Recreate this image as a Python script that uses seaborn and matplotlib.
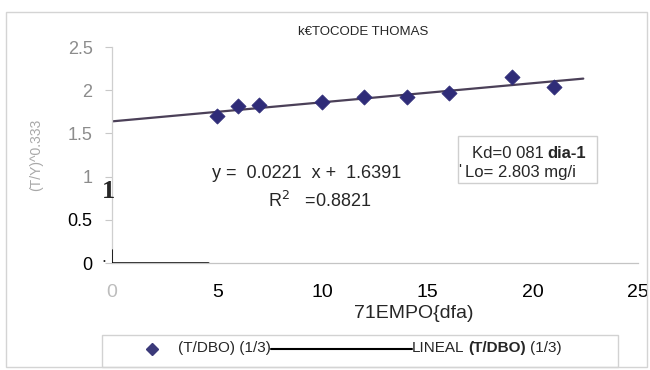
import matplotlib
matplotlib.use("Agg")
import matplotlib.pyplot as plt
import seaborn as sns
import pandas as pd
from matplotlib.patches import Rectangle
from matplotlib.lines import Line2D

# ---------------- data ----------------
dias = [5, 6, 7, 10, 12, 14, 16, 19, 21]
tdbo = [1.70, 1.82, 1.83, 1.86, 1.92, 1.92, 1.97, 2.15, 2.04]
fit_slope = 0.0221
fit_intercept = 1.6391
fit_x = [0, 22.4]

x_ticks = [0, 5, 10, 15, 20, 25]
x_tick_labels = ["0", "5", "10", "15", "20", "25"]
y_ticks = [0, 0.5, 1, 1.5, 2, 2.5]
y_tick_labels = ["0", "0.5", "1", "1.5", "2", "2.5"]

title_text = "k€TOCODE THOMAS"
xlabel_text = "71EMPO{dfa)"
ylabel_text = "(T/Y)^0.333"
eq_text = "y =  0.0221  x +  1.6391"
r2_text = "R$^2$   =0.8821"
kd_text = ("Kd=0 081", "dia-1")
lo_text = "Lo= 2.803 mg/i"
legend_series = "(T/DBO) (1/3)"
legend_fit = ("LINEAL", "(T/DBO)", "(1/3)")

# ---------------- style ----------------
W, H = 650, 370
sns.set_style("white")
plt.rcParams["font.family"] = ["Liberation Sans", "DejaVu Sans"]

fig = plt.figure(figsize=(W / 100, H / 100), dpi=100)


def fx(x):
    return x / W


def fy(y):
    return 1 - y / H


ax = fig.add_axes([fx(112), fy(263), (638 - 112) / W, (263 - 47) / H])
ax.set_facecolor("none")

df = pd.DataFrame({"dias": dias, "tdbo": tdbo})
fit_df = pd.DataFrame({"x": fit_x,
                       "y": [fit_intercept + fit_slope * v for v in fit_x]})

sns.lineplot(data=fit_df, x="x", y="y", color="#4b4058", lw=1.6, ax=ax,
             zorder=2)
sns.scatterplot(data=df, x="dias", y="tdbo", marker="D", s=60,
                color="#2f2c78", edgecolor="#2f2c78", linewidth=0.5,
                ax=ax, zorder=3)

ax.set_xlim(0, 25)
ax.set_ylim(0, 2.5)
ax.set_xlabel("")
ax.set_ylabel("")
ax.set_xticks(x_ticks)
ax.set_xticklabels(x_tick_labels)
ax.set_yticks(y_ticks)
ax.set_yticklabels(y_tick_labels)

ax.tick_params(axis="x", length=0, pad=15, labelsize=14)
ax.tick_params(axis="y", length=5, width=0.8, color="#c8c8c8", pad=9,
               labelsize=13, direction="out", left=True)

for side in ["top", "right"]:
    ax.spines[side].set_visible(False)
ax.spines["left"].set_color("#cfcfcf")
ax.spines["bottom"].set_color("#c4c4c4")
ax.spines["left"].set_linewidth(0.9)
ax.spines["bottom"].set_linewidth(0.9)

xcolors = ["#bdbdbd", "black", "black", "black", "black", "black"]
for lbl, c in zip(ax.get_xticklabels(), xcolors):
    lbl.set_color(c)
ycolors = ["black", "black", "#8c8c8c", "#8c8c8c", "#8c8c8c", "#8c8c8c"]
for lbl, c in zip(ax.get_yticklabels(), ycolors):
    lbl.set_color(c)

# scan artefacts on axis
ax.axhline(0, xmin=0, xmax=4.55 / 25, color="black", lw=1.8, zorder=4)
ax.axvline(0, ymin=0, ymax=0.06, color="black", lw=1.2, zorder=4)
fig.text(fx(104), fy(257), ".", fontsize=13, ha="center", va="center")
fig.text(fx(108), fy(192), "1", family=["Liberation Serif", "DejaVu Serif"],
         fontweight="bold", fontsize=19, ha="center", va="center")

# titles
fig.text(fx(363), fy(32), title_text, fontsize=9.5, ha="center",
         va="center")
fig.text(fx(414), fy(313), xlabel_text, fontsize=14, ha="center",
         va="center")
fig.text(fx(36), fy(155), ylabel_text, fontsize=10, rotation=90,
         ha="center", va="center", color="#a8a8a8")

# trendline annotation
fig.text(fx(212), fy(173), eq_text, fontsize=13, ha="left", va="center")
fig.text(fx(268), fy(201), r2_text, fontsize=13, ha="left", va="center")

renderer = fig.canvas.get_renderer()


def seq_text(x, y, pieces, gap=4, **kw):
    cur = x
    for s, weight in pieces:
        t = fig.text(fx(cur), fy(y), s, ha="left", va="center",
                     fontweight=weight, **kw)
        bb = t.get_window_extent(renderer=renderer)
        cur += bb.width + gap
    return cur


# Kd / Lo box
fig.patches.append(Rectangle((fx(458), fy(183)), (597 - 458) / W,
                             (183 - 136) / H, transform=fig.transFigure,
                             fill=False, ec="#cfcfcf", lw=1))
seq_text(472, 153, [(kd_text[0], "normal"), (kd_text[1], "bold")],
         gap=4, fontsize=12)
fig.text(fx(460), fy(170), "'", fontsize=11, ha="center", va="center")
fig.text(fx(465), fy(173), lo_text, fontsize=12, ha="left", va="center")

# legend
fig.patches.append(Rectangle((fx(102), fy(367)), (618 - 102) / W,
                             (367 - 335) / H, transform=fig.transFigure,
                             fill=False, ec="#d2d2d2", lw=1))
fig.add_artist(Line2D([fx(152)], [fy(349)], marker="D", ms=6,
                      color="#3b3a7a", transform=fig.transFigure))
end = seq_text(178, 348, [(legend_series, "normal")], gap=0, fontsize=11)
fig.add_artist(Line2D([fx(end), fx(412)], [fy(349), fy(349)],
                      color="black", lw=1.5, transform=fig.transFigure))
seq_text(412, 348, [(legend_fit[0], "normal"), (legend_fit[1], "bold"),
                    (legend_fit[2], "normal")], gap=4, fontsize=11)

# outer chart border
fig.patches.append(Rectangle((fx(6), fy(367)), (647 - 6) / W,
                             (367 - 12) / H, transform=fig.transFigure,
                             fill=False, ec="#d4d4d4", lw=1))

fig.savefig("out.png", dpi=100)
